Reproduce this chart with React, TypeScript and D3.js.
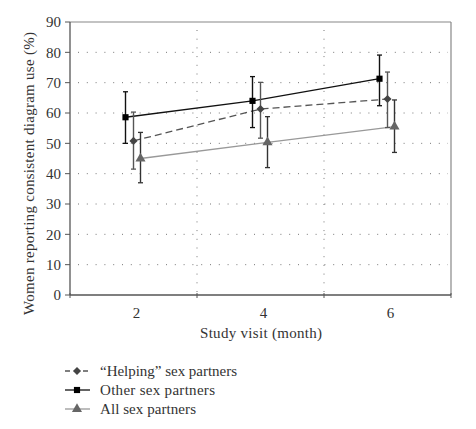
import React from "react";
import * as d3 from "d3";

const categories = ["2", "4", "6"];
const yTicks = [0, 10, 20, 30, 40, 50, 60, 70, 80, 90];

const helpingMean = [50.8, 61.3, 64.6];
const helpingLow = [41.5, 51.7, 55.2];
const helpingHigh = [60.3, 70.1, 73.5];

const otherMean = [58.6, 64.0, 71.3];
const otherLow = [50.0, 55.2, 62.4];
const otherHigh = [67.0, 72.0, 79.1];

const allMean = [45.0, 50.3, 55.5];
const allLow = [37.0, 42.0, 47.0];
const allHigh = [53.6, 58.8, 64.3];

const legendLabels = ["\u201cHelping\u201d sex partners", "Other sex partners", "All sex partners"];
const legendWidths = [137, 115, 96];

const W = 476, H = 429;
const L = 70, R = 451, T = 22, B = 295;
const FONT = "'Liberation Serif', 'Times New Roman', serif";
const FS = 15;

type Series = {
  name: string; width: number; mean: number[]; low: number[]; high: number[];
  offset: number; lineColor: string; dash?: string; markColor: string; barColor: string; shape: string;
};

const series: Series[] = [
  { name: legendLabels[0], width: legendWidths[0], mean: helpingMean, low: helpingLow, high: helpingHigh, offset: 0, lineColor: "#555", dash: "7,4", markColor: "#444", barColor: "#555", shape: "diamond" },
  { name: legendLabels[1], width: legendWidths[1], mean: otherMean, low: otherLow, high: otherHigh, offset: -8, lineColor: "#111", markColor: "#000", barColor: "#111", shape: "square" },
  { name: legendLabels[2], width: legendWidths[2], mean: allMean, low: allLow, high: allHigh, offset: 7, lineColor: "#999", markColor: "#666", barColor: "#333", shape: "triangle" },
];

function Marker({ shape, x, y, color }: { shape: string; x: number; y: number; color: string }) {
  const sym = shape === "square" ? d3.symbolSquare : shape === "diamond" ? d3.symbolDiamond2 : d3.symbolTriangle;
  const size = shape === "square" ? 38 : shape === "diamond" ? 42 : 44;
  const path = d3.symbol(sym, size)() as string;
  return <path d={path} transform={`translate(${x},${y})`} fill={color} />;
}

export default function App() {
  const x = d3.scaleBand<string>().domain(categories).range([L, R]).padding(0);
  const y = d3.scaleLinear().domain([0, 90]).range([B, T]);
  const cx = (c: string) => (x(c) as number) + x.bandwidth() / 2;
  const bounds = [...categories.map((c) => x(c) as number), R];

  return (
    <svg width={W} height={H} style={{ position: "absolute", left: 0, top: 0, background: "#fff" }} fontFamily={FONT}>
      {/* horizontal grid */}
      {yTicks.filter((t) => t > 0 && t < 90).map((t) => (
        <line key={"hg" + t} x1={L + 8} x2={R - 3} y1={y(t)} y2={y(t)} stroke="#777" strokeWidth={1} strokeDasharray="1,7.8" />
      ))}
      {/* vertical grid */}
      {bounds.slice(1, -1).map((b, i) => (
        <line key={"vg" + i} x1={b} x2={b} y1={T + 8} y2={B} stroke="#777" strokeWidth={1} strokeDasharray="1,7.7" />
      ))}
      {/* frame */}
      <line x1={L} x2={R} y1={T} y2={T} stroke="#888" strokeWidth={1.2} />
      <line x1={R} x2={R} y1={T} y2={B} stroke="#888" strokeWidth={1.2} />
      <line x1={L} x2={L} y1={T} y2={B} stroke="#555" strokeWidth={1.3} />
      <line x1={L} x2={R} y1={B} y2={B} stroke="#555" strokeWidth={1.3} />
      {/* y ticks */}
      {yTicks.map((t) => (
        <g key={"yt" + t}>
          <line x1={L - 5} x2={L} y1={y(t)} y2={y(t)} stroke="#555" strokeWidth={1} />
          <text x={L - 9} y={y(t)} dy="0.35em" textAnchor="end" fontSize={FS} fill="#333">{t}</text>
        </g>
      ))}
      {/* x ticks */}
      {bounds.map((b, i) => (
        <line key={"xt" + i} x1={b} x2={b} y1={B - 2} y2={B + 3} stroke="#555" strokeWidth={1} />
      ))}
      {categories.map((c) => (
        <text key={"xl" + c} x={cx(c) + 3} y={B + 18} dy="0.35em" textAnchor="middle" fontSize={FS} fill="#333">{c}</text>
      ))}
      <text x={261} y={B + 38} dy="0.35em" textAnchor="middle" fontSize={FS} fill="#333" textLength={122} lengthAdjust="spacing">Study visit (month)</text>
      <text transform={`translate(28.5,${173.5}) rotate(-90)`} dy="0.35em" textAnchor="middle" fontSize={FS} fill="#333" textLength={283} lengthAdjust="spacing">Women reporting consistent diagram use (%)</text>
      {/* series lines */}
      {series.map((s, si) => {
        const line = d3.line<number>().x((_, i) => cx(categories[i]) + s.offset).y((d) => y(d));
        return <path key={"ln" + si} d={line(s.mean) as string} fill="none" stroke={s.lineColor} strokeWidth={1.3} strokeDasharray={s.dash} />;
      })}
      {/* error bars and markers */}
      {series.map((s, si) => (
        <g key={"eb" + si}>
          {categories.map((c, i) => {
            const px = cx(c) + s.offset;
            return (
              <g key={c}>
                <line x1={px} x2={px} y1={y(s.high[i])} y2={y(s.low[i])} stroke={s.barColor} strokeWidth={1.4} />
                <line x1={px - 2.5} x2={px + 2.5} y1={y(s.high[i])} y2={y(s.high[i])} stroke={s.barColor} strokeWidth={1.3} />
                <line x1={px - 2.5} x2={px + 2.5} y1={y(s.low[i])} y2={y(s.low[i])} stroke={s.barColor} strokeWidth={1.3} />
                <Marker shape={s.shape} x={px} y={y(s.mean[i])} color={s.markColor} />
              </g>
            );
          })}
        </g>
      ))}
      {/* legend */}
      {series.map((s, si) => {
        const ly = 371 + si * 19;
        return (
          <g key={"lg" + si}>
            <line x1={65} x2={90} y1={ly} y2={ly} stroke={s.lineColor} strokeWidth={1.3} strokeDasharray={s.dash ? "5,4" : undefined} />
            <Marker shape={s.shape} x={77} y={ly} color={s.markColor} />
            <text x={100} y={ly} dy="0.35em" fontSize={FS} fill="#333" textLength={s.width} lengthAdjust="spacing">{s.name}</text>
          </g>
        );
      })}
    </svg>
  );
}
